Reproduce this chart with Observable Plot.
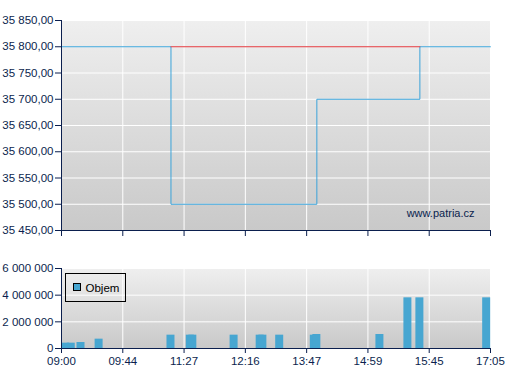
<!DOCTYPE html>
<html><head><meta charset="utf-8">
<script src="https://cdn.jsdelivr.net/npm/d3@7"></script>
<script src="https://cdn.jsdelivr.net/npm/@observablehq/plot@0.6"></script>
<style>
body{margin:0;background:#fff;}
#chart{width:507px;height:380px;overflow:hidden}
#chart svg{display:block}
</style>
</head><body><div id="chart"></div>
<script>
// ---- data ----
const tickLabels = ["09:00","09:44","11:27","12:16","13:47","14:59","15:45","17:05"];
const priceTimes = ["09:00","11:05","13:59","15:38","17:05"];
const priceValues = [35800, 35500, 35700, 35800, 35800];
const highTimes = ["11:05","15:38"];
const highValues = [35800, 35800];
const priceTicks = [35450,35500,35550,35600,35650,35700,35750,35800,35850];
const volTimes = ["09:03","09:07","09:14","09:27","11:05","11:32","11:34","12:07","12:38","12:42","13:07","13:56","13:59","15:08","15:29","15:38","17:00"];
const volValues = [400000,400000,450000,700000,1000000,1000000,1000000,1000000,1000000,1000000,1000000,1000000,1050000,1050000,3800000,3800000,3800000];
const volTicks = [0,2000000,4000000,6000000];
const legendLabel = "Objem";
const watermark = "www.patria.cz";

// ---- helpers ----
const NAVY = "#0b1f4e";
const BLUE_LINE = "#3aa3d9";
const RED_LINE = "#e0353a";
const BAR = "#47a6d1";
const loc = d3.formatLocale({decimal: ",", thousands: " ", grouping: [3], currency: ["", ""]});
const fmtPrice = loc.format(",.2f");
const fmtVol = loc.format(",.0f");
const minutes = s => { const [h, m] = s.split(":"); return +h * 60 + +m; };
const pos = d3.scaleLinear().domain(tickLabels.map(minutes)).range(d3.range(tickLabels.length));
const hw = 4 / 61.29; // half bar width in slot units

const price = priceTimes.map((t, i) => ({x: pos(minutes(t)), y: priceValues[i]}));
const high = highTimes.map((t, i) => ({x: pos(minutes(t)), y: highValues[i]}));
const vol = volTimes.map((t, i) => ({x: pos(minutes(t)), v: volValues[i]}));

function gradientBg(id, c0, c1) {
  return (index, scales, values, dim) => {
    const g = d3.create("svg:g");
    const lg = g.append("defs").append("linearGradient").attr("id", id)
      .attr("x1", 0).attr("y1", 0).attr("x2", 0).attr("y2", 1);
    lg.append("stop").attr("offset", "0%").attr("stop-color", c0);
    lg.append("stop").attr("offset", "100%").attr("stop-color", c1);
    g.append("rect").attr("x", dim.marginLeft).attr("y", dim.marginTop)
      .attr("width", dim.width - dim.marginLeft - dim.marginRight)
      .attr("height", dim.height - dim.marginTop - dim.marginBottom)
      .attr("fill", `url(#${id})`);
    return g.node();
  };
}

function legendMark(index, scales, values, dim) {
  const g = d3.create("svg:g");
  const x0 = dim.marginLeft + 4.5, y0 = dim.marginTop + 5.5;
  g.append("rect").attr("x", x0).attr("y", y0).attr("width", 60).attr("height", 28)
    .attr("fill", "none").attr("stroke", "#000").attr("stroke-width", 1);
  g.append("rect").attr("x", x0 + 8).attr("y", y0 + 10).attr("width", 7).attr("height", 7)
    .attr("fill", BAR).attr("stroke", "#000").attr("stroke-width", 1);
  g.append("text").attr("x", x0 + 20).attr("y", y0 + 18).attr("fill", "#000")
    .attr("text-anchor", "start").attr("font-size", "11.5px").text(legendLabel);
  return g.node();
}

const font = "'Liberation Sans', Arial, sans-serif";

const topChart = Plot.plot({
  width: 507, height: 245,
  marginLeft: 61, marginRight: 17, marginTop: 20, marginBottom: 15,
  style: {fontFamily: font, fontSize: "11.5px", color: NAVY, background: "transparent", overflow: "visible"},
  x: {domain: [0, 7], axis: null},
  y: {domain: [35450, 35850], axis: null},
  marks: [
    gradientBg("gtop", "#efefef", "#c9c9c9"),
    Plot.gridY(priceTicks, {stroke: "#fff", strokeOpacity: 1, strokeWidth: 1}),
    Plot.gridX(d3.range(8), {stroke: "#fff", strokeOpacity: 1, strokeWidth: 1}),
    Plot.line(price, {x: "x", y: "y", curve: "step-after", stroke: BLUE_LINE, strokeWidth: 1}),
    Plot.line(high, {x: "x", y: "y", stroke: RED_LINE, strokeWidth: 1}),
    Plot.text([watermark], {frameAnchor: "bottom-right", lineAnchor: "middle", dx: -16, dy: -17, fill: NAVY, fontSize: 11}),
    Plot.axisY(priceTicks, {label: null, tickSize: 6, tickPadding: 2, tickFormat: fmtPrice, stroke: NAVY, fill: NAVY}),
    Plot.axisX(d3.range(8), {label: null, tickSize: 6, tickFormat: () => "", stroke: NAVY}),
    Plot.ruleX([0], {stroke: NAVY}),
    Plot.ruleY([35450], {stroke: NAVY})
  ]
});

const botChart = Plot.plot({
  width: 507, height: 135,
  marginLeft: 61, marginRight: 17, marginTop: 23, marginBottom: 32,
  style: {fontFamily: font, fontSize: "11.5px", color: NAVY, background: "transparent", overflow: "visible"},
  x: {domain: [0, 7], axis: null},
  y: {domain: [0, 6000000], axis: null},
  marks: [
    gradientBg("gbot", "#efefef", "#c9c9c9"),
    Plot.gridY(volTicks, {stroke: "#fff", strokeOpacity: 1, strokeWidth: 1}),
    Plot.gridX(d3.range(8), {stroke: "#fff", strokeOpacity: 1, strokeWidth: 1}),
    Plot.rect(vol, {x1: d => d.x - hw, x2: d => d.x + hw, y1: 0, y2: "v", fill: BAR}),
    legendMark,
    Plot.axisY(volTicks, {label: null, tickSize: 6, tickPadding: 2, tickFormat: fmtVol, stroke: NAVY, fill: NAVY}),
    Plot.axisX(d3.range(8), {label: null, tickSize: 5, tickPadding: 3, tickFormat: i => tickLabels[i], stroke: NAVY, fill: NAVY}),
    Plot.ruleX([0], {stroke: NAVY}),
    Plot.ruleY([0], {stroke: NAVY})
  ]
});

document.getElementById("chart").append(topChart, botChart);
</script>
</body></html>
